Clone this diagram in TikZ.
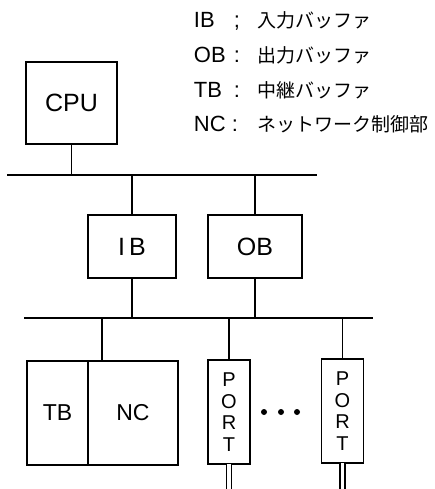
\documentclass[tikz,border=0pt]{standalone}
\usepackage{fontspec}
\setmainfont{Liberation Sans}
\newfontfamily\jpfont{Noto Sans CJK JP}
\usetikzlibrary{positioning}

\begin{document}
\begin{tikzpicture}[
  x=1pt, y=-1pt,
  line width=1.9pt,
  unit/.style={
    draw, minimum width=88pt, minimum height=63pt, inner sep=0pt,
    font=\fontsize{25}{28}\selectfont,
  },
  tall/.style={
    draw, minimum width=42pt, minimum height=104pt, inner sep=0pt,
    outer sep=0pt, font=\fontsize{23}{26}\selectfont,
  },
  port/.style={tall, align=center, font=\fontsize{20}{21.5}\selectfont},
  bus/.style={line width=2pt},
  lead/.style={double, double distance=3.5pt, line width=1.4pt},
  legend/.style={anchor=base west, inner sep=0pt, font=\fontsize{22}{24}\selectfont},
]
\useasboundingbox (0,0) rectangle (434,489);

% key to the abbreviations
\node[legend] (keyib) at (193,28) {\makebox[40pt][l]{IB}\makebox[24pt][l]{;}{\fontsize{19}{22}\jpfont 入力バッファ}};
\node[legend] (keyob) at (193,63) {\makebox[40pt][l]{OB}\makebox[24pt][l]{:}{\fontsize{19}{22}\jpfont 出力バッファ}};
\node[legend] (keytb) at (193,98) {\makebox[40pt][l]{TB}\makebox[24pt][l]{:}{\fontsize{19}{22}\jpfont 中継バッファ}};
\node[legend] (keync) at (193,132) {\makebox[38pt][l]{NC}\makebox[26pt][l]{:}{\fontsize{19}{22}\jpfont ネットワーク制御部}};

\node[unit, minimum width=91pt, minimum height=82pt] (cpu) at (71.5,103) {CPU};
\node[unit] (ib) at (132,246.5) {I\,B};
\node[unit, minimum width=94pt, right=30pt of ib] (ob) {OB};
\node[tall, minimum width=61pt] (tb) at (57.5,413) {TB};
\node[tall, minimum width=90pt, right=0pt of tb] (nc) {NC};
\node[port] (port1) at (229,412) {P\\O\\R\\T};
\node[port] (portn) at (342.5,411) {P\\O\\R\\T};

% buses
\coordinate (hostL) at (7,175);
\coordinate (hostR) at (317,175);
\coordinate (netL) at (24,318);
\coordinate (netR) at (373,318);
\coordinate (edge) at (0,489);
\coordinate (ncin) at ([xshift=14pt]nc.north west);
\draw[bus] (hostL) -- (hostR);
\draw[bus] (netL) -- (netR);

\draw (cpu.south) -- (cpu.south |- hostL);
\draw (ib.north) -- (ib.north |- hostL);
\draw (ob.north) -- (ob.north |- hostL);
\draw (ib.south) -- (ib.south |- netL);
\draw (ob.south) -- (ob.south |- netL);
\draw (ncin) -- (ncin |- netL);
\draw (port1.north) -- (port1.north |- netL);
\draw (portn.north) -- (portn.north |- netL);

\draw[lead] (port1.south) -- (port1.south |- edge);
\draw[lead] (portn.south) -- (portn.south |- edge);

\foreach \x in {264,281,297}
  \fill (\x,412) circle (3pt);

\end{tikzpicture}
\end{document}
